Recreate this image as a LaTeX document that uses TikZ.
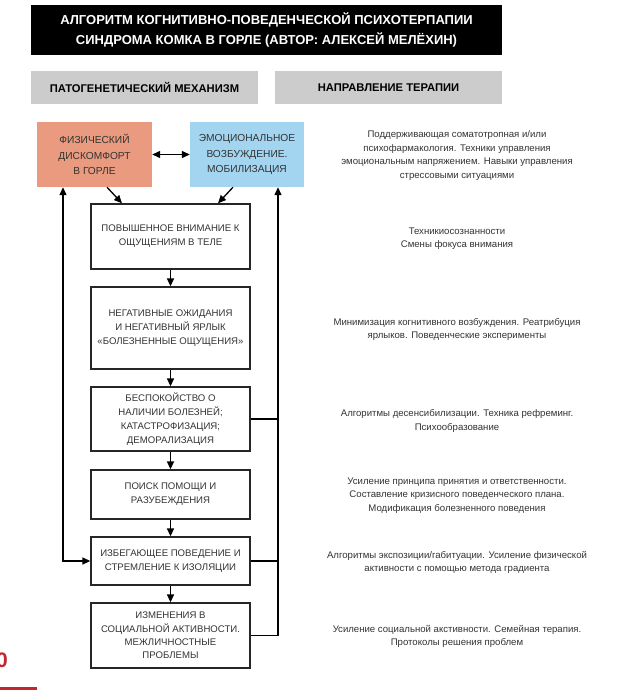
\documentclass[tikz,border=0pt]{standalone}
\usepackage{fontspec}
\setmainfont{Liberation Sans}
\usetikzlibrary{arrows.meta}
\definecolor{salmonc}{HTML}{E99A7F}
\definecolor{bluec}{HTML}{A3D5F1}
\definecolor{greyc}{HTML}{CCCCCC}
\definecolor{redc}{HTML}{C1272D}
\definecolor{txt}{HTML}{333333}
\begin{document}
\begin{tikzpicture}[x=1pt,y=-1pt,
  boxn/.style={draw=black!85, line width=1.3pt, minimum width=159pt, align=center, inner sep=0pt,
    font=\fontsize{9.6}{14}\selectfont, text=txt},
  topn/.style={minimum width=115pt, minimum height=65pt, align=center, inner sep=0pt,
    font=\fontsize{10.2}{15.5}\selectfont, text=txt},
  headn/.style={fill=greyc, minimum width=227pt, minimum height=33pt, inner sep=0pt,
    font=\fontsize{11.2}{13}\selectfont\bfseries},
  thern/.style={align=center, inner sep=0pt, font=\fontsize{9.6}{13.5}\selectfont, text=txt},
  arr/.style={line width=1.3pt, -{Triangle[length=8pt,width=7pt]}},
  darr/.style={line width=1.3pt, {Triangle[length=8pt,width=7pt]}-{Triangle[length=8pt,width=7pt]}},
  ln/.style={line width=1.3pt}]
\useasboundingbox (0,0) rectangle (616,690);
\clip (0,0) rectangle (616,690);
\fill[white] (0,0) rectangle (616,690);

% title
\node[fill=black, minimum width=471pt, minimum height=50pt, inner sep=0pt] (title) at (266.5,30) {};
\node[text=white, align=center, inner sep=0pt, font=\fontsize{13}{20}\selectfont\bfseries] (titletext) at (266.5,30)
  {АЛГОРИТМ КОГНИТИВНО-ПОВЕДЕНЧЕСКОЙ ПСИХОТЕРПАПИИ\\СИНДРОМА КОМКА В ГОРЛЕ (АВТОР: АЛЕКСЕЙ МЕЛЁХИН)};

% headers
\node[headn] (hleft) at (144.5,87.5) {ПАТОГЕНЕТИЧЕСКИЙ МЕХАНИЗМ};
\node[headn] (hright) at (388.5,87.5) {НАПРАВЛЕНИЕ ТЕРАПИИ};

% top boxes
\node[topn, fill=salmonc] (phys) at (94.5,154.5) {ФИЗИЧЕСКИЙ\\ДИСКОМФОРТ\\В ГОРЛЕ};
\node[topn, fill=bluec, minimum width=114pt] (emo) at (247,154.5) {ЭМОЦИОНАЛЬНОЕ\\ВОЗБУЖДЕНИЕ.\\МОБИЛИЗАЦИЯ};

% chain
\node[boxn, minimum height=65pt] (b1) at (170.5,236.5) {ПОВЫШЕННОЕ ВНИМАНИЕ К\\ОЩУЩЕНИЯМ В ТЕЛЕ};
\node[boxn, minimum height=82pt] (b2) at (170.5,328) {НЕГАТИВНЫЕ ОЖИДАНИЯ\\И НЕГАТИВНЫЙ ЯРЛЫК\\«БОЛЕЗНЕННЫЕ ОЩУЩЕНИЯ»};
\node[boxn, minimum height=64pt] (b3) at (170.5,419) {БЕСПОКОЙСТВО О\\НАЛИЧИИ БОЛЕЗНЕЙ;\\КАТАСТРОФИЗАЦИЯ;\\ДЕМОРАЛИЗАЦИЯ};
\node[boxn, minimum height=49pt] (b4) at (170.5,494.5) {ПОИСК ПОМОЩИ И\\РАЗУБЕЖДЕНИЯ};
\node[boxn, minimum height=48pt] (b5) at (170.5,561) {ИЗБЕГАЮЩЕЕ ПОВЕДЕНИЕ И\\СТРЕМЛЕНИЕ К ИЗОЛЯЦИИ};
\node[boxn, minimum height=65pt, font=\fontsize{9.6}{13.3}\selectfont] (b6) at (170.5,635.5) {ИЗМЕНЕНИЯ В\\СОЦИАЛЬНОЙ АКТИВНОСТИ.\\МЕЖЛИЧНОСТНЫЕ\\ПРОБЛЕМЫ};

\coordinate (L) at (63,0);
\coordinate (R) at (278,0);

% connectors
\draw[darr] (phys) -- (emo);
\draw[arr] ([xshift=12.5pt]phys.south) -- ([xshift=-48.5pt]b1.north);
\draw[arr] ([xshift=-14pt]emo.south) -- ([xshift=47.5pt]b1.north);
\draw[arr] (b1) -- (b2);
\draw[arr] (b2) -- (b3);
\draw[arr] (b3) -- (b4);
\draw[arr] (b4) -- (b5);
\draw[arr] (b5) -- (b6);
\draw[darr] (phys.south -| L) |- (b5.west);
\draw[arr] (b6.east) -| (emo.south -| R);
\draw[ln] (b3.east) -- (b3.east -| R);
\draw[ln] (b5.east) -- (b5.east -| R);

% therapy texts
\node[thern] (t1) at (457,155.5) {Поддерживающая соматотропная и/или\\психофармакология. Техники управления\\эмоциональным напряжением. Навыки управления\\стрессовыми ситуациями};
\node[thern] (t2) at (457,238.5) {Техникиосознанности\\Смены фокуса внимания};
\node[thern] (t3) at (457,329.5) {Минимизация когнитивного возбуждения. Реатрибуция\\ярлыков. Поведенческие эксперименты};
\node[thern] (t4) at (457,421) {Алгоритмы десенсибилизации. Техника рефреминг.\\Психообразование};
\node[thern] (t5) at (457,495.5) {Усиление принципа принятия и ответственности.\\Составление кризисного поведенческого плана.\\Модификация болезненного поведения};
\node[thern] (t6) at (457,562.5) {Алгоритмы экспозиции/габитуации. Усиление физической\\активности с помощью метода градиента};
\node[thern] (t7) at (457,636.5) {Усиление социальной акстивности. Семейная терапия.\\Протоколы решения проблем};

% page corner marks
\node[text=redc, inner sep=0pt, anchor=east, font=\fontsize{21}{21}\selectfont\bfseries] (pnum) at (8,660.5) {0};
\fill[redc] (0,687) rectangle (37,690);
\end{tikzpicture}
\end{document}
